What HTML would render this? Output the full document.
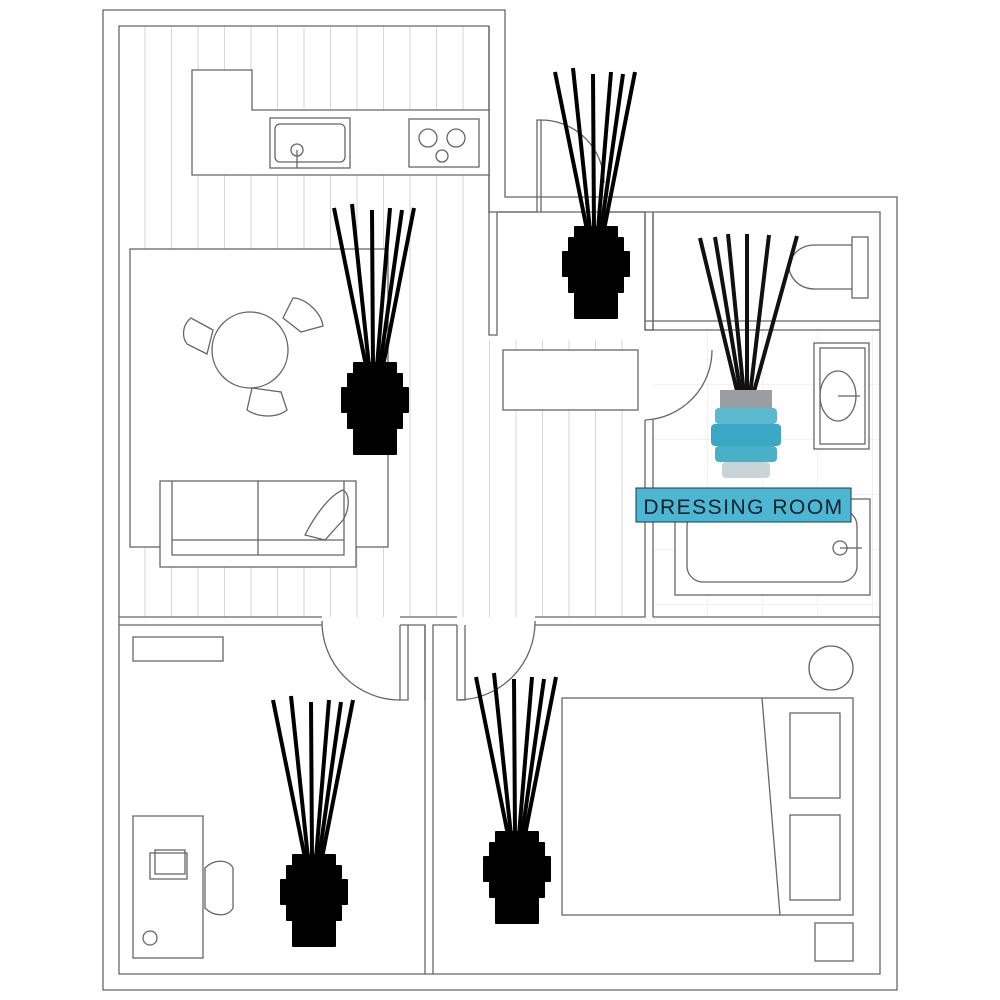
<!DOCTYPE html>
<html><head><meta charset="utf-8"><style>html,body{margin:0;padding:0;background:#fff}svg{display:block}</style></head><body>
<svg width="1000" height="1000" viewBox="0 0 1000 1000" xmlns="http://www.w3.org/2000/svg">
<defs>
<pattern id="wood" x="119" y="0" width="26.5" height="1000" patternUnits="userSpaceOnUse">
<line x1="26" y1="0" x2="26" y2="1000" stroke="#d6d6d6" stroke-width="1"/>
</pattern>
<pattern id="tile" x="653" y="330" width="55" height="55" patternUnits="userSpaceOnUse">
<path d="M55 0V55M0 55H55" stroke="#e6e6e6" fill="none"/>
</pattern>
<g id="dif">
<g stroke="#000" stroke-width="4" stroke-linecap="butt">
<line x1="-8" y1="158" x2="-40" y2="0"/>
<line x1="-5" y1="158" x2="-22" y2="-4"/>
<line x1="-1" y1="158" x2="-2" y2="2"/>
<line x1="3" y1="158" x2="16" y2="0"/>
<line x1="6" y1="158" x2="28" y2="2"/>
<line x1="9" y1="158" x2="40" y2="0"/>
</g>
<path fill="#000" d="M-20 155h42v11h6v14h6v24h-6v16h-6v26h-42v-26h-6v-16h-6v-24h6v-14h6z" stroke="#000" stroke-width="2" stroke-linejoin="round"/>
</g>
</defs>
<g fill="none" stroke="#666" stroke-width="1.3">
<!-- floors -->
<rect x="119" y="26" width="370" height="591" fill="url(#wood)" stroke="none"/>
<rect x="489" y="340" width="156" height="277" fill="url(#wood)" stroke="none"/>
<rect x="653" y="330" width="227" height="287" fill="url(#tile)" stroke="none"/>
<!-- outer walls -->
<path d="M103 10H505V197H897V990H103Z"/>
<path d="M119 26H489V212H880V974H119Z"/>
<!-- interior wall outlines -->
<path d="M119 617H322M400 617H457M535 617H645V420"/>
<path d="M119 625H322M400 625H425V974M433 974V625H457M535 625H880"/>
<path d="M653 617V420"/>
<path d="M489 26V335H497V212M497 212H537M600 212H645V330H653V212"/>
<path d="M645 330H880M653 321H880M645 321H653V330M653 212V321M645 212V330"/>
<path d="M653 617H880"/>
<path d="M400 625V700H408V625M425 625V700M457 625V700H465V625"/>
<path d="M537 212V120H541V212M541 120A63 63 0 0 1 604 183"/>
<path d="M322 621A78 78 0 0 0 400 700"/>
<path d="M535 621A78 78 0 0 1 457 700"/>
<path d="M645 420A70 70 0 0 0 712 350"/>
<!-- kitchen -->
<path d="M192 70H252V110H489V175H192Z" fill="#fff"/>
<rect x="270" y="118" width="80" height="50"/>
<rect x="275" y="124" width="70" height="38" rx="5"/>
<line x1="297" y1="150" x2="297" y2="168"/><circle cx="297" cy="150" r="6"/>
<rect x="409" y="119" width="70" height="48"/>
<circle cx="428" cy="138" r="9"/><circle cx="456" cy="138" r="9"/><circle cx="442" cy="156" r="6"/>
<!-- rug & table -->
<rect x="130" y="249" width="258" height="298" fill="#fff"/>
<circle cx="250" cy="350" r="38"/>
<path d="M213 330l-22-12c-8 6-10 18-4 26l20 10z"/>
<path d="M283 318l10-20c12 0 28 14 30 28l-22 6z"/>
<path d="M252 388l-5 22c12 8 30 8 40 0l-6-18z"/>
<!-- sofa -->
<rect x="160" y="481" width="196" height="86" fill="#fff"/>
<path d="M172 481V555H344V481M172 540H344M258 481V555"/>
<path d="M305 535c10-20 25-40 38-45c8 5 6 20 0 30l-18 20z"/>
<!-- hall -->
<rect x="503" y="350" width="135" height="60" fill="#fff"/>
<!-- toilet -->
<rect x="852" y="237" width="16" height="61"/>
<path d="M852 245H815c-18 0-26 14-26 22s8 22 26 22H852"/>
<!-- bathroom sink -->
<rect x="814" y="343" width="55" height="106" fill="#fff"/>
<path d="M820 348H865V444H820Z"/>
<ellipse cx="838" cy="396" rx="18" ry="25"/>
<line x1="838" y1="396" x2="860" y2="396"/>
<!-- tub -->
<rect x="675" y="499" width="195" height="96" fill="#fff"/>
<rect x="687" y="510" width="170" height="72" rx="16"/>
<circle cx="840" cy="548" r="7"/><line x1="840" y1="548" x2="862" y2="548"/>
<!-- bottom-left -->
<rect x="133" y="637" width="90" height="24"/>
<rect x="133" y="816" width="70" height="142"/>
<rect x="150" y="853" width="37" height="26"/><rect x="155" y="850" width="30" height="24"/>
<circle cx="150" cy="938" r="7"/>
<path d="M205 868c10-10 24-8 28 0v40c-4 8-18 10-28 0z"/>
<!-- bedroom -->
<circle cx="831" cy="668" r="22"/>
<rect x="562" y="698" width="291" height="217"/>
<path d="M762 698L780 915"/>
<rect x="790" y="713" width="50" height="85"/>
<rect x="790" y="815" width="50" height="85"/>
<rect x="815" y="923" width="38" height="38"/>
</g>
<use href="#dif" x="374" y="208"/>
<use href="#dif" x="595" y="72"/>
<use href="#dif" x="313" y="700"/>
<use href="#dif" x="516" y="677"/>
<!-- blue diffuser -->
<g stroke="#111" stroke-width="4">
<line x1="738" y1="395" x2="700" y2="238"/>
<line x1="741" y1="395" x2="715" y2="237"/>
<line x1="744" y1="395" x2="728" y2="234"/>
<line x1="747" y1="395" x2="747" y2="234"/>
<line x1="750" y1="395" x2="769" y2="235"/>
<line x1="753" y1="395" x2="797" y2="236"/>
</g>
<rect x="720" y="390" width="52" height="18" fill="#9a9ea3"/>
<rect x="715" y="408" width="62" height="16" rx="4" fill="#5cb8cc"/>
<rect x="711" y="424" width="70" height="22" rx="4" fill="#3aa8c4"/>
<rect x="715" y="446" width="62" height="16" rx="4" fill="#4ab0c8"/>
<rect x="722" y="462" width="48" height="16" rx="4" fill="#c8d4d8"/>
<rect x="636" y="488" width="215" height="34" fill="#4cb6d3" stroke="#1a3a44" stroke-width="1"/>
<text x="743.5" y="514" text-anchor="middle" font-family="Liberation Sans, sans-serif" font-size="21" letter-spacing="1.5" fill="#0f2128">DRESSING ROOM</text>
</svg>
</body></html>
